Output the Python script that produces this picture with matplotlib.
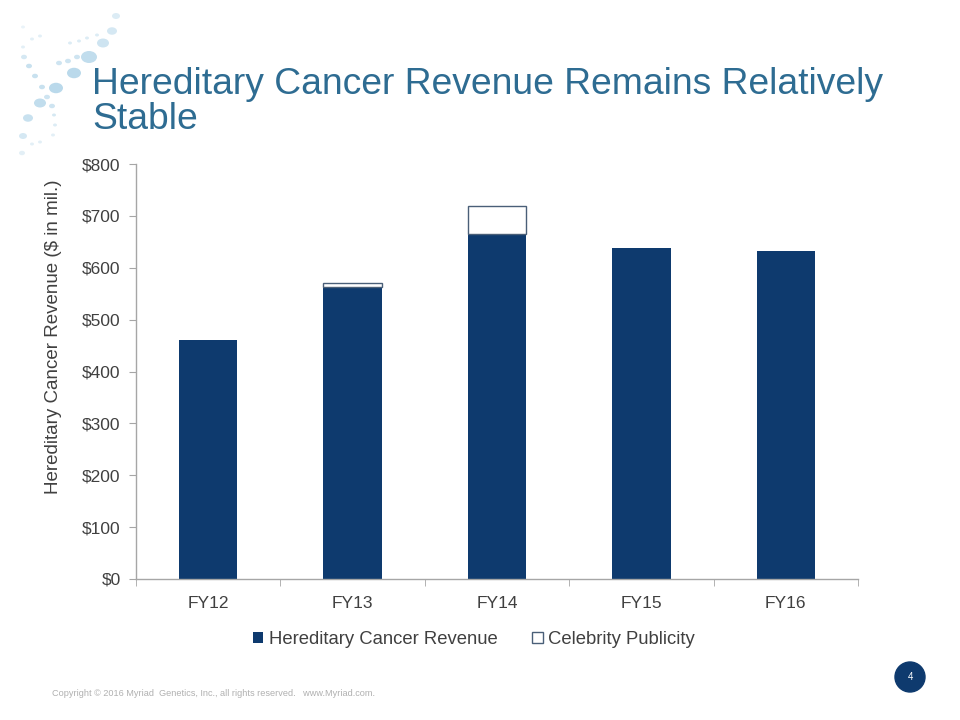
import matplotlib.pyplot as plt
import matplotlib.patches as mpatches
from matplotlib.ticker import FuncFormatter, FixedLocator

plt.rcParams['font.family'] = ['Liberation Sans', 'DejaVu Sans']

years = ["FY12", "FY13", "FY14", "FY15", "FY16"]
hereditary = [460, 562, 665, 638, 632]
celebrity = [0, 9, 54, 0, 0]

navy = "#0E3A6E"
title_blue = "#2E6C92"
text_gray = "#404040"

fig = plt.figure(figsize=(9.6, 7.2), dpi=100)
ax = fig.add_axes([136 / 960, 1 - 579 / 720, (858 - 136) / 960, (579 - 164) / 720])

x = list(range(len(years)))
ax.bar(x, hereditary, width=0.405, color=navy, label="Hereditary Cancer Revenue", zorder=2)
cel = [c if c > 0 else float('nan') for c in celebrity]
ax.bar(x, cel, width=0.405, bottom=hereditary, color="white", edgecolor="#4A5F78",
       linewidth=1.0, label="Celebrity Publicity", zorder=2)

ax.set_xlim(-0.5, len(years) - 0.5)
ax.set_ylim(0, 800)
ax.set_yticks(range(0, 801, 100))
ax.yaxis.set_major_formatter(FuncFormatter(lambda v, p: f"${int(v)}"))
ax.set_xticks(x)
ax.set_xticklabels(years)
ax.xaxis.set_minor_locator(FixedLocator([i + 0.5 for i in range(-1, len(years))]))
ax.tick_params(axis="x", which="major", length=0, pad=12, labelsize=12.5, labelcolor=text_gray)
ax.tick_params(axis="x", which="minor", length=5, color="#A6A6A6", direction="out")
ax.tick_params(axis="y", length=5, color="#A6A6A6", labelsize=12.5, labelcolor=text_gray, pad=6)
for s in ["top", "right"]:
    ax.spines[s].set_visible(False)
for s in ["left", "bottom"]:
    ax.spines[s].set_color("#A6A6A6")
    ax.spines[s].set_linewidth(1.0)

ax.set_ylabel("Hereditary Cancer Revenue ($ in mil.)", fontsize=13.5, color=text_gray)
ax.yaxis.set_label_coords(-0.103, 0.584)

leg = ax.legend(loc="upper center", bbox_to_anchor=(0.468, -0.085), ncol=2, frameon=False,
                fontsize=13.3, handlelength=0.55, handleheight=0.55, handletextpad=0.3,
                columnspacing=1.9, labelcolor=text_gray)

fig.text(92 / 960, 1 - 102 / 720, "Hereditary Cancer Revenue Remains Relatively\nStable",
         fontsize=26.8, color=title_blue, va="center", ha="left", linespacing=1.02)

# logo dots (decoration): x, y, radius in pixels, strength
dots = [(116, 16, 4, 0.5), (112, 31, 5, 0.6), (103, 43, 6, 0.7), (89, 57, 8, 0.9),
        (74, 73, 7, 1.0), (56, 88, 7, 1.0), (40, 103, 6, 0.9), (28, 118, 5, 0.8),
        (23, 136, 4, 0.6), (22, 153, 3, 0.4),
        (97, 35, 2, 0.5), (87, 38, 2, 0.5), (79, 41, 2, 0.5), (70, 43, 2, 0.5),
        (77, 57, 3, 0.7), (68, 61, 3, 0.7), (59, 63, 3, 0.7),
        (40, 36, 2, 0.4), (32, 39, 2, 0.4), (23, 47, 2, 0.4), (24, 57, 3, 0.6),
        (29, 66, 3, 0.8), (35, 76, 3, 0.8), (42, 87, 3, 0.8), (47, 97, 3, 0.7),
        (52, 106, 3, 0.7), (54, 115, 2, 0.6), (55, 125, 2, 0.5), (53, 135, 2, 0.4),
        (40, 142, 2, 0.4), (32, 144, 2, 0.4), (23, 27, 2, 0.3)]
for dx, dy, r, a in dots:
    fig.patches.append(mpatches.Circle((dx / 960, 1 - dy / 720), r / 960,
                                       transform=fig.transFigure, color="#A9D0E6",
                                       alpha=a * 0.8, lw=0, zorder=0))

fig.text(52 / 960, 1 - 694 / 720,
         "Copyright \u00a9 2016 Myriad  Genetics, Inc., all rights reserved.   www.Myriad.com.",
         fontsize=6.6, color="#B0B0B0", va="center", ha="left")

fig.patches.append(mpatches.Ellipse((910 / 960, 1 - 677 / 720), 30 / 960, 30 / 720,
                                    transform=fig.transFigure, color=navy, zorder=3))
fig.text(910 / 960, 1 - 677 / 720, "4", fontsize=7, color="white", ha="center", va="center")

fig.savefig("out.png", dpi=100)
